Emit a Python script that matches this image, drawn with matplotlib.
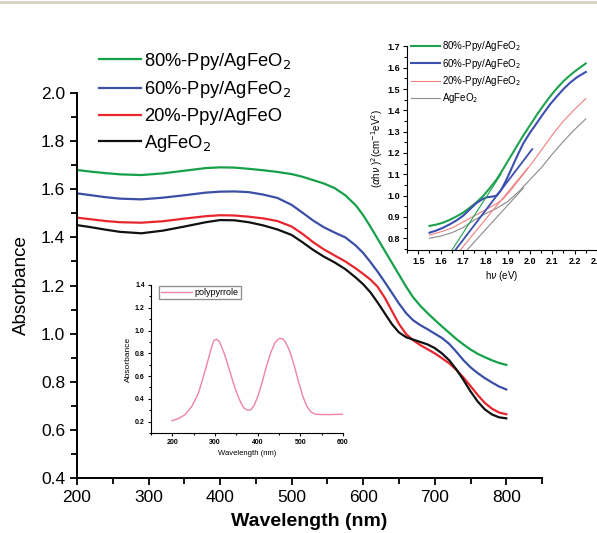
import matplotlib
matplotlib.use("Agg")
import matplotlib.pyplot as plt
from matplotlib.lines import Line2D
from matplotlib.ticker import MultipleLocator, FormatStrFormatter

plt.rcParams['font.family'] = ['Liberation Sans', 'DejaVu Sans']

# ---------------- main data ----------------
wl = [200, 220, 240, 260, 290, 320, 350, 380, 400, 420, 440, 460, 480, 500,
      515, 530, 545, 560, 575, 590, 600, 610, 620, 630, 640, 650, 660, 670,
      680, 690, 700, 710, 720, 730, 740, 750, 760, 770, 780, 790, 800]
abs_80 = [1.680, 1.673, 1.667, 1.662, 1.659, 1.666, 1.677, 1.688, 1.691, 1.690,
          1.685, 1.679, 1.672, 1.663, 1.652, 1.638, 1.624, 1.605, 1.575, 1.532,
          1.492, 1.445, 1.395, 1.345, 1.295, 1.245, 1.195, 1.150, 1.115, 1.085,
          1.057, 1.030, 1.004, 0.978, 0.955, 0.934, 0.916, 0.902, 0.889, 0.878,
          0.870]
abs_60 = [1.583, 1.575, 1.567, 1.561, 1.558, 1.565, 1.575, 1.586, 1.590, 1.591,
          1.588, 1.578, 1.564, 1.535, 1.503, 1.470, 1.442, 1.420, 1.400, 1.365,
          1.335, 1.298, 1.258, 1.215, 1.170, 1.125, 1.085, 1.055, 1.035, 1.018,
          1.000, 0.982, 0.958, 0.925, 0.890, 0.860, 0.836, 0.815, 0.797, 0.780,
          0.768]
abs_20 = [1.482, 1.475, 1.468, 1.463, 1.461, 1.467, 1.478, 1.488, 1.492, 1.491,
          1.486, 1.479, 1.468, 1.445, 1.415, 1.380, 1.350, 1.325, 1.300, 1.270,
          1.248, 1.225, 1.195, 1.150, 1.095, 1.040, 0.998, 0.972, 0.952, 0.935,
          0.918, 0.898, 0.877, 0.850, 0.818, 0.782, 0.745, 0.712, 0.688, 0.672,
          0.665]
abs_0 = [1.451, 1.442, 1.432, 1.423, 1.417, 1.428, 1.445, 1.463, 1.472, 1.471,
         1.463, 1.450, 1.433, 1.410, 1.380, 1.348, 1.320, 1.296, 1.268, 1.232,
         1.205, 1.172, 1.130, 1.085, 1.040, 1.005, 0.985, 0.975, 0.965, 0.955,
         0.940, 0.918, 0.890, 0.852, 0.808, 0.760, 0.718, 0.685, 0.664, 0.652,
         0.648]
main_labels = [r'80%-Ppy/AgFeO$_2$', r'60%-Ppy/AgFeO$_2$', '20%-Ppy/AgFeO', r'AgFeO$_2$']
main_colors = ['#17a04a', '#3b4fa6', '#e8262e', '#111111']

# ---------------- Tauc inset data ----------------
hv_80 = [1.55, 1.58, 1.61, 1.64, 1.67, 1.70, 1.73, 1.76, 1.79, 1.82, 1.85, 1.88,
         1.91, 1.94, 1.97, 2.00, 2.03, 2.06, 2.09, 2.12, 2.15, 2.18, 2.21, 2.25]
tauc_80 = [0.858, 0.864, 0.873, 0.886, 0.902, 0.920, 0.943, 0.968, 0.998, 1.035,
           1.075, 1.125, 1.178, 1.230, 1.282, 1.330, 1.378, 1.423, 1.465, 1.503,
           1.537, 1.565, 1.590, 1.620]
hv_60 = [1.55, 1.58, 1.61, 1.64, 1.67, 1.70, 1.73, 1.76, 1.79, 1.81, 1.83, 1.85,
         1.87, 1.89, 1.91, 1.94, 1.97, 2.00, 2.03, 2.06, 2.09, 2.12, 2.15, 2.18,
         2.21, 2.25]
tauc_60 = [0.826, 0.836, 0.849, 0.865, 0.883, 0.905, 0.935, 0.965, 0.985, 0.993,
           0.995, 1.000, 1.025, 1.065, 1.110, 1.180, 1.245, 1.295, 1.340, 1.385,
           1.428, 1.465, 1.500, 1.530, 1.555, 1.580]
hv_20 = [1.55, 1.60, 1.65, 1.70, 1.75, 1.80, 1.85, 1.88, 1.91, 1.94, 1.97, 2.00,
         2.05, 2.10, 2.15, 2.20, 2.25]
tauc_20 = [0.815, 0.830, 0.848, 0.876, 0.905, 0.933, 0.962, 0.985, 1.020, 1.060,
           1.100, 1.140, 1.212, 1.285, 1.350, 1.405, 1.455]
hv_0 = [1.55, 1.60, 1.65, 1.70, 1.75, 1.80, 1.85, 1.90, 1.95, 2.00, 2.05, 2.10,
        2.15, 2.20, 2.25]
tauc_0 = [0.800, 0.810, 0.826, 0.850, 0.885, 0.915, 0.940, 0.972, 1.019, 1.075,
          1.130, 1.195, 1.255, 1.310, 1.360]
# tangent (fit) lines: start and end points
fit_hv_80 = [1.651, 1.870]
fit_80 = [0.745, 1.100]
fit_hv_60 = [1.666, 2.010]
fit_60 = [0.745, 1.218]
fit_hv_20 = [1.688, 1.990]
fit_20 = [0.745, 1.130]
fit_hv_0 = [1.718, 1.970]
fit_0 = [0.745, 1.035]
tauc_colors = ['#1fa24f', '#3b4fb0', '#f08080', '#8a8a8a']
tauc_labels = [r'80%-Ppy/AgFeO$_2$', r'60%-Ppy/AgFeO$_2$', r'20%-Ppy/AgFeO$_2$', r'AgFeO$_2$']

# ---------------- polypyrrole inset data ----------------
ppy_wl = [199, 215, 230, 245, 260, 270, 280, 290, 297, 303, 310, 320, 330, 340,
          350, 360, 368, 376, 384, 392, 400, 410, 420, 430, 440, 450, 458, 465,
          475, 485, 495, 505, 515, 525, 535, 550, 570, 600]
ppy_abs = [0.208, 0.228, 0.262, 0.330, 0.440, 0.560, 0.690, 0.830, 0.910, 0.925,
           0.905, 0.815, 0.700, 0.575, 0.460, 0.370, 0.318, 0.300, 0.305, 0.345,
           0.420, 0.540, 0.680, 0.800, 0.890, 0.930, 0.928, 0.900, 0.820, 0.700,
           0.560, 0.430, 0.335, 0.285, 0.265, 0.262, 0.262, 0.265]

fig = plt.figure(figsize=(5.97, 5.33), dpi=100)

# decorative top rule
fig.add_artist(Line2D([0, 1], [0.996, 0.996], transform=fig.transFigure,
                      color='#d9d0c1', lw=2))

# ---------------- main axes ----------------
ax = fig.add_axes([0.129, 0.1032, 0.779, 0.7223])
series = [abs_80, abs_60, abs_20, abs_0]
handles = []
for ys, c, lab in zip(series, main_colors, main_labels):
    h, = ax.plot(wl, ys, color=c, lw=1.6, label=lab, solid_joinstyle='round')
    handles.append(h)
ax.set_xlim(200, 850)
ax.set_ylim(0.4, 2.0)
ax.xaxis.set_major_locator(MultipleLocator(100))
ax.xaxis.set_minor_locator(MultipleLocator(50))
ax.yaxis.set_major_locator(MultipleLocator(0.2))
ax.yaxis.set_minor_locator(MultipleLocator(0.1))
ax.yaxis.set_major_formatter(FormatStrFormatter('%.1f'))
for s in ['top', 'right']:
    ax.spines[s].set_visible(False)
for s in ['left', 'bottom']:
    ax.spines[s].set_linewidth(1.4)
ax.tick_params(which='major', length=5, width=1.3, labelsize=12.5, direction='out')
ax.tick_params(which='minor', length=4, width=1.3, direction='out')
ax.set_xlabel('Wavelength (nm)', fontsize=14, fontweight='bold', labelpad=6)
ax.set_ylabel('Absorbance', fontsize=13.5, labelpad=8)

leg = fig.legend(handles=handles, labels=main_labels, loc='upper left',
                 bbox_to_anchor=(0.165, 0.905), frameon=False, fontsize=13.2,
                 handlelength=2.3, handletextpad=0.2, labelspacing=0.42,
                 borderaxespad=0, borderpad=0)

# ---------------- Tauc inset ----------------
ax1 = fig.add_axes([0.682, 0.531, 0.318, 0.382])
ax1.plot(hv_80, tauc_80, color=tauc_colors[0], lw=1.5, label=tauc_labels[0])
ax1.plot(hv_60, tauc_60, color=tauc_colors[1], lw=1.5, label=tauc_labels[1])
ax1.plot(hv_20, tauc_20, color=tauc_colors[2], lw=0.8, label=tauc_labels[2])
ax1.plot(hv_0, tauc_0, color=tauc_colors[3], lw=0.8, label=tauc_labels[3])
ax1.plot(fit_hv_80, fit_80, color=tauc_colors[0], lw=0.8)
ax1.plot(fit_hv_60, fit_60, color=tauc_colors[1], lw=1.3)
ax1.plot(fit_hv_20, fit_20, color=tauc_colors[2], lw=0.8)
ax1.plot(fit_hv_0, fit_0, color=tauc_colors[3], lw=0.8)
ax1.set_xlim(1.45, 2.30)
ax1.set_ylim(0.745, 1.70)
ax1.patch.set_alpha(0)
for s in ['top', 'right']:
    ax1.spines[s].set_visible(False)
ax1.xaxis.set_major_locator(MultipleLocator(0.1))
ax1.xaxis.set_minor_locator(MultipleLocator(0.05))
ax1.yaxis.set_major_locator(MultipleLocator(0.1))
ax1.yaxis.set_minor_locator(MultipleLocator(0.05))
ax1.xaxis.set_major_formatter(FormatStrFormatter('%.1f'))
ax1.yaxis.set_major_formatter(FormatStrFormatter('%.1f'))
ax1.tick_params(which='major', length=3, width=0.8, labelsize=6.5, pad=2)
ax1.tick_params(which='minor', length=2, width=0.8)
for lab in ax1.get_xticklabels() + ax1.get_yticklabels():
    lab.set_fontweight('bold')
ax1.set_xlabel(r'h$\nu$ (eV)', fontsize=7, labelpad=2)
ax1.set_ylabel(r'($\alpha$h$\nu$ )$^2$(cm$^{-1}$eV$^2$)', fontsize=7, labelpad=2)
ax1.legend(loc='upper left', bbox_to_anchor=(0.02, 1.035), frameon=False,
           fontsize=7, handlelength=3.0, handletextpad=0.2, labelspacing=0.35,
           borderaxespad=0, borderpad=0)

# ---------------- polypyrrole inset ----------------
ax2 = fig.add_axes([0.253, 0.1876, 0.3216, 0.2777])
ax2.plot(ppy_wl, ppy_abs, color='#ee82ab', lw=1.0, label='polypyrrole')
ax2.set_xlim(150, 600)
ax2.set_ylim(0.1, 1.4)
ax2.patch.set_alpha(0)
for s in ['top', 'right']:
    ax2.spines[s].set_visible(False)
ax2.xaxis.set_major_locator(MultipleLocator(100))
ax2.xaxis.set_minor_locator(MultipleLocator(50))
ax2.yaxis.set_major_locator(MultipleLocator(0.2))
ax2.yaxis.set_minor_locator(MultipleLocator(0.1))
ax2.yaxis.set_major_formatter(FormatStrFormatter('%.1f'))
ax2.tick_params(which='major', length=2.5, width=0.8, labelsize=5, pad=2)
ax2.tick_params(which='minor', length=1.5, width=0.8)
for lab in ax2.get_xticklabels() + ax2.get_yticklabels():
    lab.set_fontweight('bold')
ax2.set_xlabel('Wavelength (nm)', fontsize=5.5, labelpad=3)
ax2.set_ylabel('Absorbance', fontsize=6, labelpad=2)
ax2.legend(loc='upper left', bbox_to_anchor=(0.04, 0.99), frameon=True,
           fancybox=False, edgecolor='#777777', fontsize=6.5, handlelength=3.5,
           handletextpad=0.3, borderpad=0.2, borderaxespad=0)

fig.savefig('out.png', dpi=100)
